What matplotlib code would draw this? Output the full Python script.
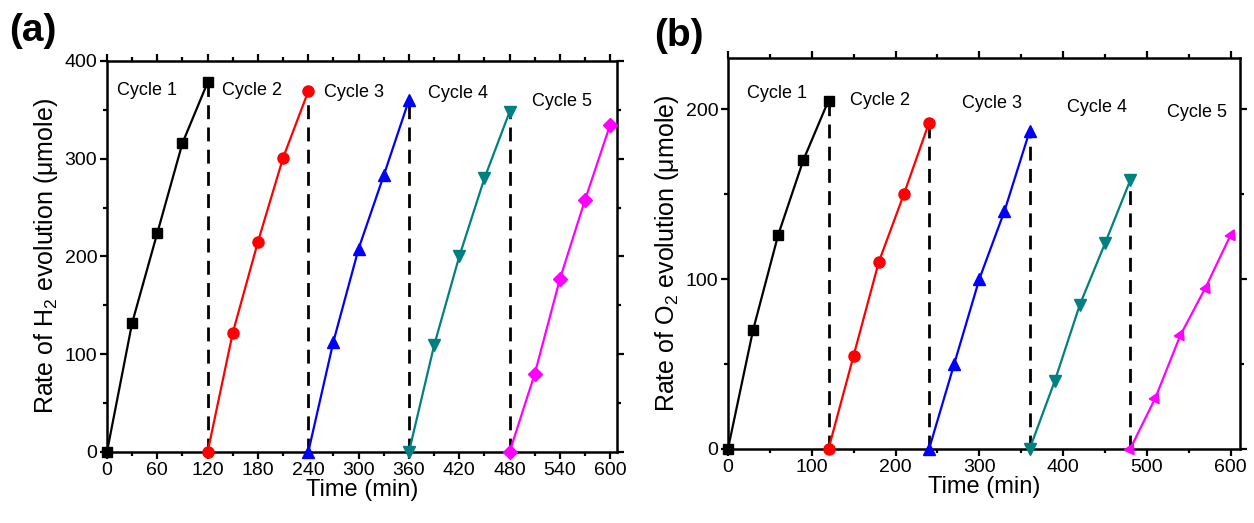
import matplotlib
matplotlib.use("Agg")
import matplotlib.pyplot as plt
from matplotlib.ticker import MultipleLocator

plt.rcParams['font.family'] = ['Liberation Sans', 'DejaVu Sans']
plt.rcParams['mathtext.fontset'] = 'custom'
plt.rcParams['mathtext.rm'] = 'Liberation Sans'

# ---- data ----
cycle_labels = ["Cycle 1", "Cycle 2", "Cycle 3", "Cycle 4", "Cycle 5"]
times = [
    [0, 30, 60, 90, 120],
    [120, 150, 180, 210, 240],
    [240, 270, 300, 330, 360],
    [360, 390, 420, 450, 480],
    [480, 510, 540, 570, 600],
]
h2_values = [
    [0, 132, 224, 316, 378],
    [0, 122, 215, 301, 369],
    [0, 113, 208, 283, 360],
    [0, 109, 200, 280, 348],
    [0, 80, 177, 258, 335],
]
o2_values = [
    [0, 70, 126, 170, 205],
    [0, 55, 110, 150, 192],
    [0, 50, 100, 140, 187],
    [0, 40, 85, 121, 158],
    [0, 30, 67, 95, 126],
]
# label positions (data coords)
h2_label_x = [48, 173, 294, 418, 543]
h2_label_y = [370, 370, 368, 367, 359]
o2_label_x = [58, 181, 315, 440, 560]
o2_label_y = [209, 205, 203, 201, 198]

colors = ["#000000", "#FF0000", "#0000FF", "#008080", "#FF00FF"]
markers_a = ["s", "o", "^", "v", "D"]
markers_b = ["s", "o", "^", "v", (3, 0, -25)]
msizes_a = [7, 8, 8, 8, 7]
msizes_b = [7, 8, 8, 8, 9]

fig = plt.figure(figsize=(12.54, 5.23), dpi=100)
ax1 = fig.add_axes([0.0853, 0.1358, 0.492 - 0.0853, 0.8834 - 0.1358])
ax2 = fig.add_axes([0.5805, 0.1415, 0.9888 - 0.5805, 0.889 - 0.1415])


def draw(ax, values, markers, msizes, lx, ly):
    for i in range(5):
        ax.plot(times[i], values[i], color=colors[i], marker=markers[i],
                markersize=msizes[i], lw=1.6, clip_on=False, zorder=3)
        if i < 4:
            ax.plot([times[i][-1], times[i][-1]], [0, values[i][-1]],
                    color="black", lw=2, dashes=(5, 3), zorder=2)
        ax.text(lx[i], ly[i], cycle_labels[i], fontsize=13, ha="center",
                va="center")
    for sp in ax.spines.values():
        sp.set_linewidth(1.8)
    ax.tick_params(which="both", direction="out", top=True, right=True,
                   labeltop=False, labelright=False, width=1.6)
    ax.tick_params(which="major", length=5, labelsize=14, pad=2)
    ax.tick_params(which="minor", length=3)


draw(ax1, h2_values, markers_a, msizes_a, h2_label_x, h2_label_y)
ax1.set_xlim(0, 608)
ax1.set_ylim(0, 400)
ax1.xaxis.set_major_locator(MultipleLocator(60))
ax1.xaxis.set_minor_locator(MultipleLocator(30))
ax1.yaxis.set_major_locator(MultipleLocator(100))
ax1.yaxis.set_minor_locator(MultipleLocator(50))
ax1.set_xlabel("Time (min)", fontsize=17, labelpad=0)
ax1.set_ylabel("Rate of H$_2$ evolution (\u03bcmole)", fontsize=18, labelpad=3)

draw(ax2, o2_values, markers_b, msizes_b, o2_label_x, o2_label_y)
ax2.set_xlim(0, 611)
ax2.set_ylim(0, 230)
ax2.xaxis.set_major_locator(MultipleLocator(100))
ax2.xaxis.set_minor_locator(MultipleLocator(50))
ax2.yaxis.set_major_locator(MultipleLocator(100))
ax2.yaxis.set_minor_locator(MultipleLocator(50))
ax2.set_xlabel("Time (min)", fontsize=17, labelpad=0)
ax2.set_ylabel("Rate of O$_2$ evolution (\u03bcmole)", fontsize=18, labelpad=3)

fig.text(0.007, 0.975, "(a)", fontsize=28, fontweight="bold", va="top")
fig.text(0.522, 0.965, "(b)", fontsize=28, fontweight="bold", va="top")

fig.savefig("out.png", dpi=100)
